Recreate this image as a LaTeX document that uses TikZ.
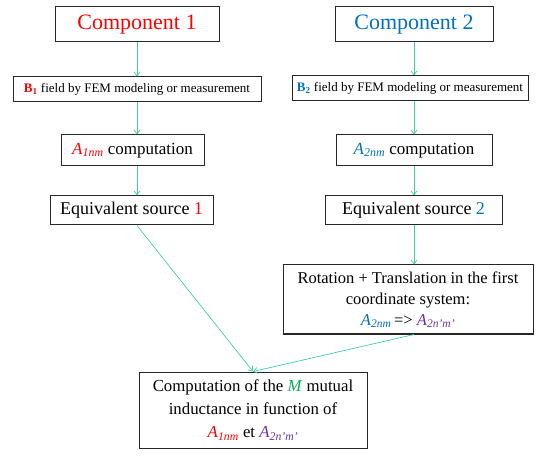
\documentclass[tikz,border=0pt]{standalone}
\usepackage{fontspec}
\setmainfont{Liberation Serif}
\usetikzlibrary{arrows.meta}

\definecolor{linkgreen}{RGB}{64,208,160}
\definecolor{compblue}{RGB}{0,112,192}
\definecolor{primepurple}{RGB}{112,48,160}
\definecolor{mgreen}{RGB}{0,176,80}

\newcommand{\Acoef}[2]{\textcolor{#1}{\textit{A}\textsubscript{\textit{#2}}}}
\newcommand{\fsz}[2]{\fontsize{#1}{#2}\selectfont}

\begin{document}
\begin{tikzpicture}[x=1pt, y=-1pt]
\tikzstyle{every node} = [draw=black!85, line width=1pt, inner sep=0pt, align=center]
\tikzstyle{link} = [draw=linkgreen, line width=0.7pt, -{Straight Barb[length=4pt,width=6pt]}]
\useasboundingbox (0,0) rectangle (539,476);
\coordinate (c1) at (137,0);
\coordinate (c2) at (414,0);
\node[minimum width=164pt, minimum height=35pt, font=\fsz{22}{26}] (comp1) at (137,24.5) {\textcolor{red}{Component 1}};
\node[minimum width=158pt, minimum height=35pt, font=\fsz{22}{26}] (comp2) at (414,24.5) {\textcolor{compblue}{Component 2}};
\node[minimum width=248pt, minimum height=25pt, font=\fsz{13}{16}] (b1) at (137,89.5) {\textcolor{red}{\textbf{B\textsubscript{1}}} field by FEM modeling or measurement};
\node[minimum width=236pt, minimum height=25pt, font=\fsz{13}{16}] (b2) at (410,88.5) {\textcolor{compblue}{\textbf{B\textsubscript{2}}} field by FEM modeling or measurement};
\node[minimum width=143pt, minimum height=31pt, font=\fsz{17}{21}] (a1) at (132.5,150.5) {\Acoef{red}{1nm} computation};
\node[minimum width=156pt, minimum height=31pt, font=\fsz{17}{21}] (a2) at (414,150.5) {\Acoef{compblue}{2nm} computation};
\node[minimum width=163pt, minimum height=29pt, font=\fsz{18}{22}] (eq1) at (131.5,210.5) {Equivalent source \textcolor{red}{1}};
\node[minimum width=177pt, minimum height=29pt, font=\fsz{18}{22}] (eq2) at (413.5,210.5) {Equivalent source \textcolor{compblue}{2}};
\node[minimum width=250pt, minimum height=69pt, font=\fsz{16.5}{21}] (rot) at (408,299.5) {Rotation + Translation in the first\\coordinate system:\\\Acoef{compblue}{2nm}\,=> \Acoef{primepurple}{2n'm'}};
\node[minimum width=228pt, minimum height=76pt, font=\fsz{16.8}{23}] (fin) at (253,410) {Computation of the \textcolor{mgreen}{\textit{M}} mutual\\inductance in function of\\\Acoef{red}{1nm} et \Acoef{primepurple}{2n'm'}};
\foreach \from/\to/\col in {comp1/b1/c1, b1/a1/c1, a1/eq1/c1, comp2/b2/c2, b2/a2/c2, a2/eq2/c2, eq2/rot/c2}
\draw [link] (\col |- \from.south) -- (\col |- \to.north);
\draw [link] (c1 |- eq1.south) -- (fin.north);
\draw [link] (c2 |- rot.south) -- (fin.north);
\end{tikzpicture}
\end{document}
